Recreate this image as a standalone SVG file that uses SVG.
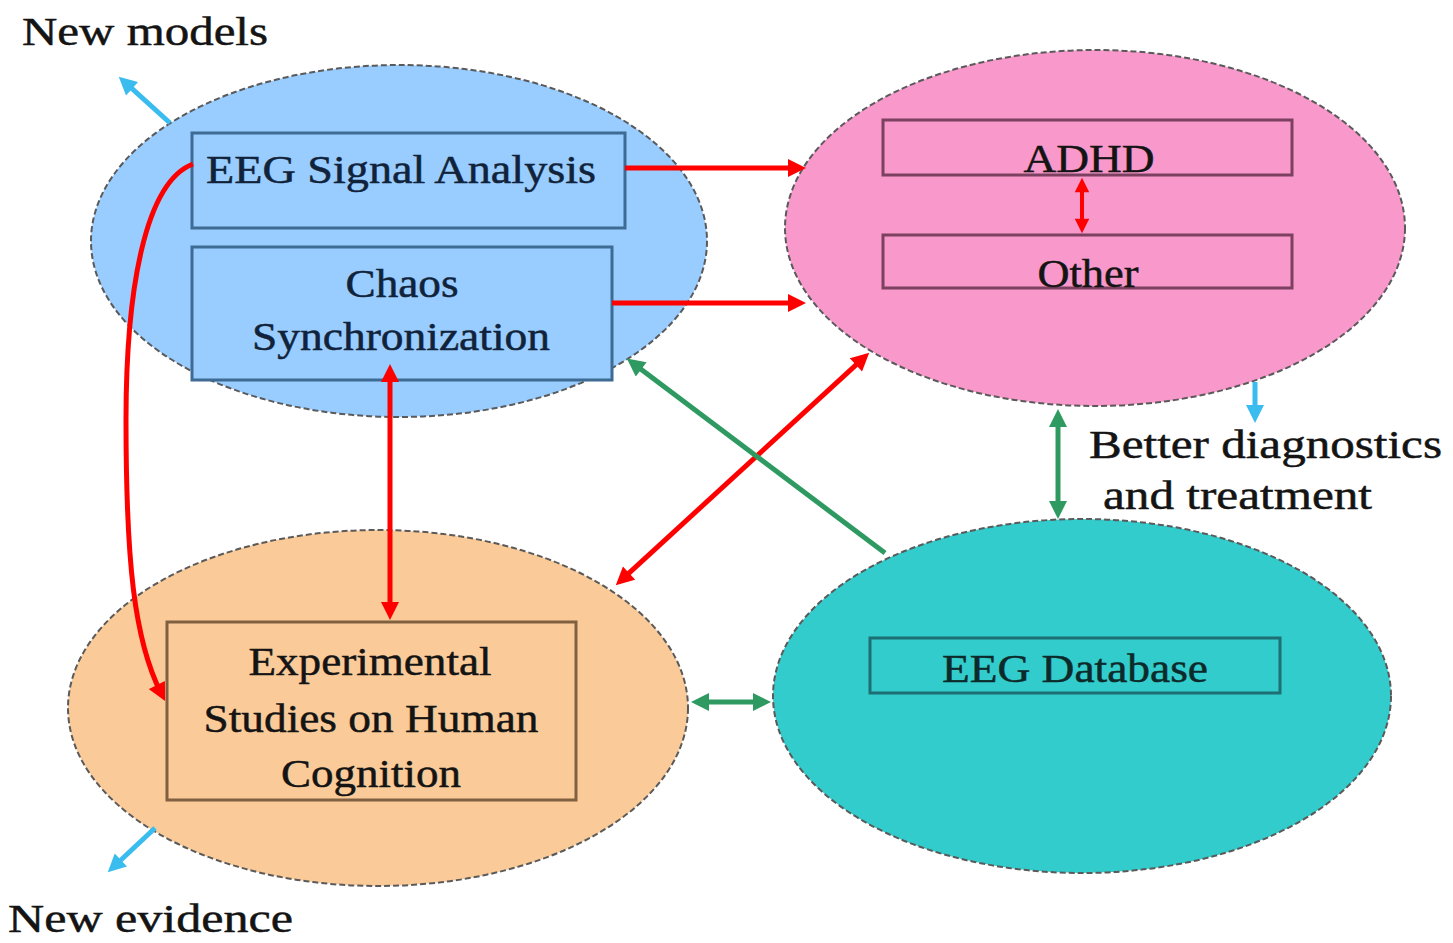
<svg xmlns="http://www.w3.org/2000/svg" width="1453" height="943" viewBox="0 0 1453 943">
<style>
.ell{stroke:#5a5a5a;stroke-width:2;stroke-dasharray:6 3}
.box{stroke-width:3}
.t{font-family:"Liberation Serif","Times New Roman",serif;font-size:41px;fill:#141414;stroke:#141414;stroke-width:0.5}
.red{fill:none;stroke:#ff0000;stroke-width:5}
.grn{fill:none;stroke:#2e9a62;stroke-width:5}
.cyn{fill:none;stroke:#3bbcef;stroke-width:5}
</style>
<defs>
<marker id="hr" viewBox="0 0 10 10" refX="5" refY="5" markerWidth="4" markerHeight="3.6" orient="auto-start-reverse" markerUnits="strokeWidth"><path d="M0,0 L10,5 L0,10 z" fill="#ff0000"/></marker>
<marker id="hg" viewBox="0 0 10 10" refX="5" refY="5" markerWidth="4" markerHeight="3.6" orient="auto-start-reverse" markerUnits="strokeWidth"><path d="M0,0 L10,5 L0,10 z" fill="#2e9a62"/></marker>
<marker id="hc" viewBox="0 0 10 10" refX="5" refY="5" markerWidth="4" markerHeight="3.6" orient="auto-start-reverse" markerUnits="strokeWidth"><path d="M0,0 L10,5 L0,10 z" fill="#3bbcef"/></marker>
</defs>
<rect width="1453" height="943" fill="#ffffff"/>

<g id="node-models">
<ellipse class="ell" cx="399" cy="241" rx="308" ry="176" fill="#99CCFF"/>
<g id="node-eeg-signal">
<rect class="box" x="192" y="133" width="433" height="95" fill="#99CCFF" stroke="#3d6b93"/>
<text class="t" x="206" y="183" textLength="390" lengthAdjust="spacingAndGlyphs" style="fill:#10233a;stroke:#10233a">EEG Signal Analysis</text>
</g>
<g id="node-chaos">
<rect class="box" x="192" y="247" width="420" height="133" fill="#99CCFF" stroke="#3d6b93"/>
<text class="t" x="402" y="297" text-anchor="middle" textLength="113" lengthAdjust="spacingAndGlyphs" style="fill:#10233a;stroke:#10233a">Chaos</text>
<text class="t" x="401" y="350" text-anchor="middle" textLength="298" lengthAdjust="spacingAndGlyphs" style="fill:#10233a;stroke:#10233a">Synchronization</text>
</g>
</g>

<g id="node-disorders">
<ellipse class="ell" cx="1095" cy="228" rx="310" ry="178" fill="#F999CB"/>
<g id="node-adhd">
<rect class="box" x="883" y="120" width="409" height="55" fill="#F999CB" stroke="#7c4060"/>
<text class="t" x="1089" y="172" text-anchor="middle" textLength="131" lengthAdjust="spacingAndGlyphs">ADHD</text>
</g>
<g id="node-other">
<rect class="box" x="883" y="235" width="409" height="53" fill="#F999CB" stroke="#7c4060"/>
<text class="t" x="1088" y="287" text-anchor="middle" textLength="101" lengthAdjust="spacingAndGlyphs">Other</text>
</g>
</g>

<g id="node-experiments">
<ellipse class="ell" cx="378" cy="708" rx="310" ry="178" fill="#FACB99"/>
<rect class="box" x="167" y="622" width="409" height="178" fill="#FACB99" stroke="#806040"/>
<text class="t" x="370" y="675" text-anchor="middle" textLength="243" lengthAdjust="spacingAndGlyphs">Experimental</text>
<text class="t" x="371" y="732" text-anchor="middle" textLength="335" lengthAdjust="spacingAndGlyphs">Studies on Human</text>
<text class="t" x="371" y="787" text-anchor="middle" textLength="180" lengthAdjust="spacingAndGlyphs">Cognition</text>
</g>

<g id="node-database">
<ellipse class="ell" cx="1082" cy="696" rx="309" ry="177" fill="#33CCCC"/>
<rect class="box" x="870" y="638" width="410" height="55" fill="#33CCCC" stroke="#1e6f73"/>
<text class="t" x="1075" y="682" text-anchor="middle" textLength="266" lengthAdjust="spacingAndGlyphs" style="fill:#0d2a2a;stroke:#0d2a2a">EEG Database</text>
</g>

<g id="labels">
<text class="t" x="22" y="45" textLength="246" lengthAdjust="spacingAndGlyphs">New models</text>
<text class="t" x="8" y="932" textLength="285" lengthAdjust="spacingAndGlyphs">New evidence</text>
<text class="t" x="1089" y="458" textLength="353" lengthAdjust="spacingAndGlyphs">Better diagnostics</text>
<text class="t" x="1103" y="509" textLength="269" lengthAdjust="spacingAndGlyphs">and treatment</text>
</g>

<g id="connectors">
<path class="red" d="M625,168 L797,168" marker-end="url(#hr)"/>
<path class="red" d="M612,303 L797,303" marker-end="url(#hr)"/>
<path class="red" d="M622.4,579.2 L862.6,358.8" marker-start="url(#hr)" marker-end="url(#hr)"/>
<path class="red" d="M390,373 L390,611" marker-start="url(#hr)" marker-end="url(#hr)"/>
<path class="red" d="M193,164 C145,182 126,290 126,420 C126,560 134,640 161,693" marker-end="url(#hr)"/>
<path class="red" d="M1082,185 L1082,226" style="stroke-width:4" marker-start="url(#hr)" marker-end="url(#hr)"/>
<path class="grn" d="M885,553 L634,364" marker-end="url(#hg)"/>
<path class="grn" d="M1058,418 L1058,510" marker-start="url(#hg)" marker-end="url(#hg)"/>
<path class="grn" d="M700,702 L762,702" marker-start="url(#hg)" marker-end="url(#hg)"/>
<path class="cyn" d="M170,123 L125.4,82.7" marker-end="url(#hc)"/>
<path class="cyn" d="M155,828 L114.3,866.2" marker-end="url(#hc)"/>
<path class="cyn" d="M1255,382 L1255,414" marker-end="url(#hc)"/>
</g>
</svg>
